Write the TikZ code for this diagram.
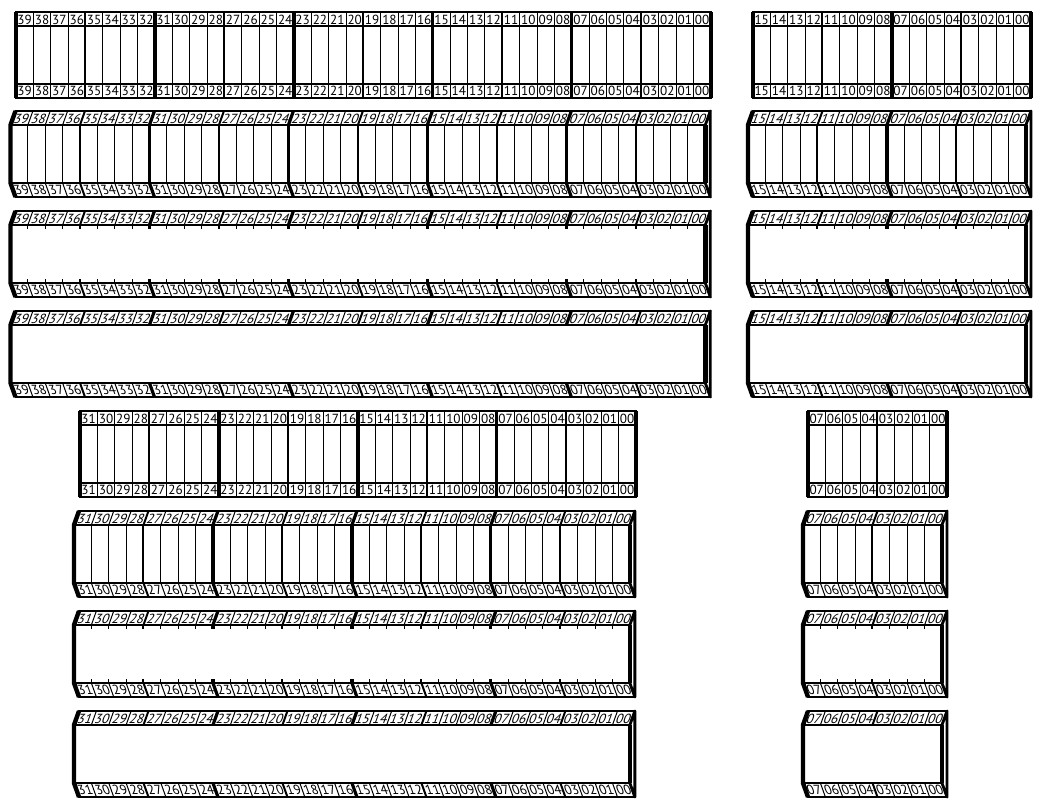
\documentclass[tikz,border=0pt]{standalone}
\usepackage{fontspec}
\setmainfont{PT Sans}
\usetikzlibrary{calc}
\newcommand{\cellw}{17.37}
\newcommand{\bev}{5}
\newcommand{\bitname}[1]{\ifnum#1<10 0\fi#1}
\tikzset{
  regpic/.style={x=0.5pt,y=-0.5pt,line join=miter},
  outline/.style={line width=0.9pt},
  edgebar/.style={line width=2.2pt,line join=round},
  sidebar/.style={line width=1.4pt,line join=round},
  bitlabel/.style={inner sep=0pt,font=\fontsize{6.6}{8}\selectfont},
  toplabel/.style={bitlabel,xslant=0.36},
  botlabel/.style={bitlabel,xslant=-0.36}
}
% flat register: left x, top y, number of bits
\newcommand{\flatreg}[3]{%
  \pgfmathsetmacro{\xr}{#1+#3*\cellw}
  \pgfmathtruncatemacro{\nlast}{#3-1}
  \draw[outline] (#1,#2) rectangle (\xr,#2+86);
  \draw[outline] (#1,#2+14) -- (\xr,#2+14) (#1,#2+72) -- (\xr,#2+72);
  \foreach \i in {1,...,\nlast}{
    \pgfmathsetmacro{\lw}{mod(\i,8)==0 ? 1.6 : (mod(\i,4)==0 ? 1.0 : 0.5)}
    \draw[line width=\lw pt] (#1+\i*\cellw,#2) -- (#1+\i*\cellw,#2+86);
  }
  \foreach \i in {0,...,\nlast}{
    \pgfmathtruncatemacro{\bitno}{#3-1-\i}
    \node[bitlabel] at (#1+\i*\cellw+0.5*\cellw,#2+7.5) {\bitname{\bitno}};
    \node[bitlabel] at (#1+\i*\cellw+0.5*\cellw,#2+79) {\bitname{\bitno}};
  }
  \draw[edgebar] (#1,#2) -- (#1,#2+86) (\xr,#2) -- (\xr,#2+86);
}
% slanted register: left x of front, top y, number of bits, body (0 lines, 1 ticks, 2 blank)
\newcommand{\slantreg}[4]{%
  \pgfmathsetmacro{\xr}{#1+#3*\cellw}
  \pgfmathtruncatemacro{\nlast}{#3-1}
  \draw[outline] (#1,#2+14) -- (#1+\bev,#2) -- (\xr+\bev,#2) -- (\xr,#2+14) -- cycle;
  \draw[outline] (#1,#2+72) -- (#1+\bev,#2+86) -- (\xr+\bev,#2+86) -- (\xr,#2+72) -- cycle;
  \foreach \i in {1,...,\nlast}{
    \pgfmathsetmacro{\lw}{mod(\i,8)==0 ? 1.6 : (mod(\i,4)==0 ? 1.0 : 0.5)}
    \draw[line width=\lw pt] (#1+\i*\cellw,#2+14) -- ++(\bev,-14)
      (#1+\i*\cellw,#2+72) -- ++(\bev,14);
    \ifcase#4
      \draw[line width=\lw pt] (#1+\i*\cellw,#2+14) -- (#1+\i*\cellw,#2+72);
    \or
      \draw[line width=\lw pt] (#1+\i*\cellw,#2+14) -- ++(0,4)
        (#1+\i*\cellw,#2+72) -- ++(0,-4);
    \or
    \fi
  }
  \foreach \i in {0,...,\nlast}{
    \pgfmathtruncatemacro{\bitno}{#3-1-\i}
    \node[toplabel] at (#1+\i*\cellw+0.5*\cellw+0.5*\bev,#2+7.5) {\bitname{\bitno}};
    \node[botlabel] at (#1+\i*\cellw+0.5*\cellw+0.5*\bev,#2+79) {\bitname{\bitno}};
  }
  % left bevel and right side face
  \draw[edgebar] (#1+\bev,#2) -- (#1,#2+14) -- (#1,#2+72) -- (#1+\bev,#2+86);
  \draw[edgebar] (\xr,#2+14) -- (\xr,#2+72);
  \draw[sidebar] (\xr,#2+14) -- (\xr+\bev,#2) -- (\xr+\bev,#2+86) -- (\xr,#2+72);
}
\begin{document}
\begin{tikzpicture}[regpic]
  \useasboundingbox (0,0) rectangle (1048,808);
  % 40 and 16 bit registers
  \flatreg{16}{12}{40}
  \flatreg{753}{12}{16}
  \slantreg{10.5}{111}{40}{0}
  \slantreg{748}{111}{16}{0}
  \slantreg{10.5}{211}{40}{1}
  \slantreg{748}{211}{16}{1}
  \slantreg{10.5}{311}{40}{2}
  \slantreg{748}{311}{16}{2}
  % 32 and 8 bit registers
  \flatreg{80}{411}{32}
  \flatreg{808}{411}{8}
  \slantreg{74}{511}{32}{0}
  \slantreg{803}{511}{8}{0}
  \slantreg{74}{611}{32}{1}
  \slantreg{803}{611}{8}{1}
  \slantreg{74}{711}{32}{2}
  \slantreg{803}{711}{8}{2}
\end{tikzpicture}
\end{document}
